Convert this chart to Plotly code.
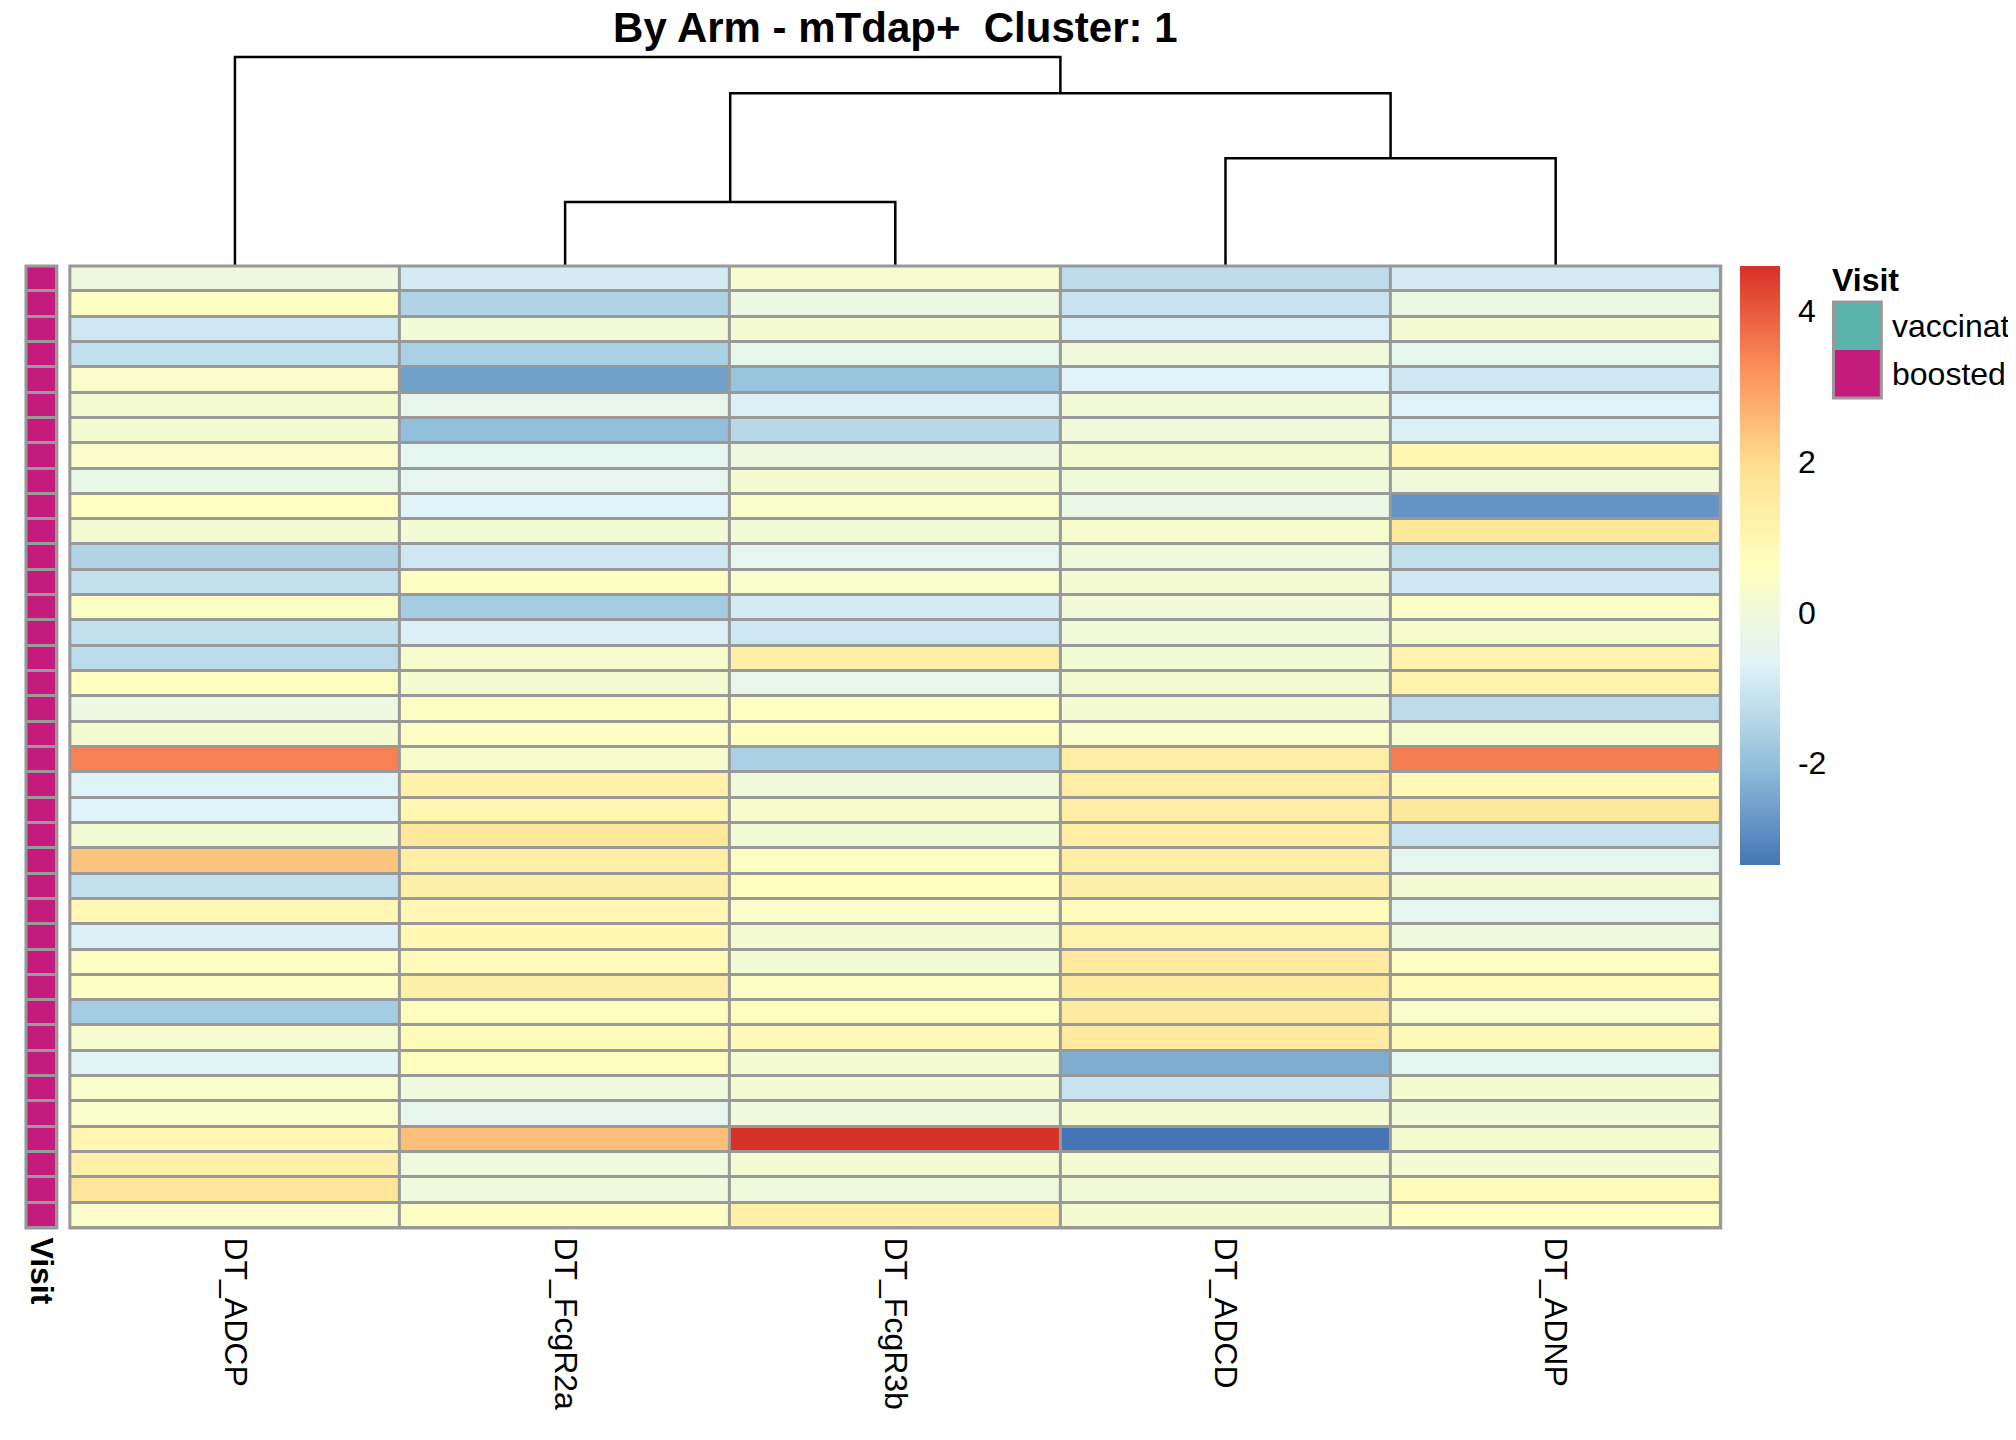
import plotly.graph_objects as go

# ---------------- data ----------------
TITLE = "By Arm - mTdap+  Cluster: 1"
columns = ["DT_ADCP", "DT_FcgR2a", "DT_FcgR3b", "DT_ADCD", "DT_ADNP"]

dt_adcp = [-0.1, 0.5, -1.0, -1.2, 0.4, 0.2, 0.2, 0.4, -0.3, 0.6,
           0.15, -1.5, -1.2, 0.5, -1.2, -1.3, 0.65, -0.2, 0.2, 3.45,
           -0.7, -0.7, 0.1, 2.4, -1.2, 0.95, -0.8, 0.5, 0.5, -1.7,
           0.25, -0.6, 0.35, 0.35, 1.0, 1.25, 1.75, 0.4]
dt_fcgr2a = [-0.9, -1.5, 0.1, -1.6, -2.6, -0.4, -2.0, -0.5, -0.45, -0.7,
             0.1, -1.0, 0.5, -1.7, -0.8, 0.3, 0.2, 0.5, 0.5, 0.3,
             1.2, 1.0, 1.6, 1.4, 1.25, 0.95, 0.95, 0.8, 1.25, 0.7,
             0.8, 0.65, -0.05, -0.45, 2.5, -0.05, -0.05, 0.5]
dt_fcgr3b = [0.25, -0.2, 0.2, -0.4, -1.9, -0.8, -1.4, -0.1, 0.15, 0.35,
             0.05, -0.5, 0.35, -0.9, -1.0, 1.3, -0.35, 0.6, 0.65, -1.6,
             0.0, 0.3, 0.1, 0.55, 0.7, 0.35, 0.2, 0.1, 0.5, 0.65,
             0.85, 0.15, 0.15, -0.05, 4.6, 0.15, -0.05, 1.25]
dt_adcd = [-1.3, -1.1, -0.8, 0.0, -0.7, 0.1, 0.0, 0.15, -0.05, -0.25,
           0.3, 0.0, 0.15, 0.05, 0.0, 0.1, 0.15, 0.15, 0.35, 1.4,
           1.35, 1.35, 1.35, 1.35, 1.25, 0.75, 1.2, 1.5, 1.5, 1.5,
           1.5, -2.35, -1.1, 0.15, -3.35, 0.15, 0.05, 0.2]
dt_adnp = [-0.9, -0.2, 0.2, -0.45, -1.0, -0.7, -0.8, 1.0, 0.0, -2.8,
           1.6, -1.2, -1.0, 0.45, 0.3, 1.1, 1.1, -1.3, 0.25, 3.5,
           0.85, 1.6, -1.1, -0.5, 0.15, -0.5, -0.05, 0.5, 0.8, 0.35,
           0.85, -0.5, 0.2, 0.1, 0.2, 0.15, 0.8, 0.6]

visit = ["boosted", "boosted", "boosted", "boosted", "boosted", "boosted", "boosted", "boosted",
         "boosted", "boosted", "boosted", "boosted", "boosted", "boosted", "boosted", "boosted",
         "boosted", "boosted", "boosted", "boosted", "boosted", "boosted", "boosted", "boosted",
         "boosted", "boosted", "boosted", "boosted", "boosted", "boosted", "boosted", "boosted",
         "boosted", "boosted", "boosted", "boosted", "boosted", "boosted"]
visit_levels = ["vaccinated", "boosted"]
visit_colors = ["#5AB4AC", "#C51B7D"]

# column dendrogram: merges of (left, right) node ids and merge heights
dendro_merges = [(1, 2), (3, 4), (5, 6), (0, 7)]
dendro_heights = [3.0, 5.05, 8.1, 9.8]

colorbar_ticks = [-2, 0, 2, 4]
rdylbu = ["#4575B4", "#91BFDB", "#E0F3F8", "#FFFFBF", "#FEE090", "#FC8D59", "#D73027"]

# ---------------- layout constants ----------------
W, H = 2016, 1440
OFF = 8  # page body margin


def px(x):
    return (x - OFF) / W


def py(y):
    return 1 - (y - OFF) / H


FONT = "Liberation Sans, Arial, Helvetica, sans-serif"
GREY = "#999999"
hm_x = [px(68), px(1723)]
hm_y = [py(1228), py(266)]
ann_x = [px(24), px(55)]
den_y = [py(266), py(40)]

series = [dt_adcp, dt_fcgr2a, dt_fcgr3b, dt_adcd, dt_adnp]
n_rows = len(dt_adcp)
n_cols = len(columns)
z = [[s[i] for s in series] for i in range(n_rows)]
all_vals = [v for s in series for v in s]
zmin, zmax = min(all_vals), max(all_vals)
cscale = [[i / (len(rdylbu) - 1), c] for i, c in enumerate(rdylbu)]

fig = go.Figure()

# main heatmap
fig.add_trace(go.Heatmap(
    z=z, x=list(range(n_cols)), y=list(range(n_rows)),
    colorscale=cscale, zmin=zmin, zmax=zmax, xgap=3, ygap=3,
    xaxis="x", yaxis="y",
    colorbar=dict(
        x=px(1742), xanchor="left", y=py(266), yanchor="top",
        len=599 / H, lenmode="fraction", thickness=40, thicknessmode="pixels",
        xpad=0, ypad=0, outlinewidth=0,
        tickvals=colorbar_ticks, ticktext=[str(t) for t in colorbar_ticks],
        ticks="outside", ticklen=12, tickcolor="rgba(0,0,0,0)",
        tickfont=dict(size=32, color="black", family=FONT),
    ),
))

# annotation column (Visit)
fig.add_trace(go.Heatmap(
    z=[[visit_levels.index(v)] for v in visit], x=[0], y=list(range(n_rows)),
    colorscale=[[0, visit_colors[0]], [0.5, visit_colors[0]],
                [0.5, visit_colors[1]], [1, visit_colors[1]]],
    zmin=0, zmax=1, showscale=False, xgap=3, ygap=3,
    xaxis="x3", yaxis="y3", hoverinfo="skip",
))

# dendrogram
node_x = {i: float(i) for i in range(n_cols)}
node_h = {i: 0.0 for i in range(n_cols)}
dx, dy = [], []
for k, ((a, b), h) in enumerate(zip(dendro_merges, dendro_heights)):
    nid = n_cols + k
    dx += [node_x[a], node_x[a], node_x[b], node_x[b], None]
    dy += [node_h[a], h, h, node_h[b], None]
    node_x[nid] = (node_x[a] + node_x[b]) / 2
    node_h[nid] = h
fig.add_trace(go.Scatter(x=dx, y=dy, mode="lines", line=dict(color="black", width=2.5),
                         xaxis="x2", yaxis="y2", hoverinfo="skip", showlegend=False))

max_h = max(dendro_heights)
noaxis = dict(showgrid=False, zeroline=False, showline=False, showticklabels=False, ticks="")

shapes = [
    # grey backing behind cells -> cell borders via gaps
    dict(type="rect", xref="x domain", yref="y domain", x0=0, x1=1, y0=0, y1=1,
         fillcolor=GREY, line=dict(width=0), layer="below"),
    dict(type="rect", xref="x3 domain", yref="y3 domain", x0=0, x1=1, y0=0, y1=1,
         fillcolor=GREY, line=dict(width=0), layer="below"),
    # outer borders of heatmap and annotation column
    dict(type="rect", xref="paper", yref="paper", x0=hm_x[0], x1=hm_x[1], y0=hm_y[0], y1=hm_y[1],
         line=dict(color=GREY, width=3)),
    dict(type="rect", xref="paper", yref="paper", x0=ann_x[0], x1=ann_x[1], y0=hm_y[0], y1=hm_y[1],
         line=dict(color=GREY, width=3)),
]

# Visit legend
box_x0, box_x1 = px(1836), px(1884)
box_tops = [302, 350]
box_h = 48
for lvl, col, top in zip(visit_levels, visit_colors, box_tops):
    shapes.append(dict(type="rect", xref="paper", yref="paper", x0=box_x0, x1=box_x1,
                       y0=py(top + box_h), y1=py(top),
                       fillcolor=col, line=dict(width=0)))
shapes.append(dict(type="rect", xref="paper", yref="paper", x0=box_x0, x1=box_x1,
                   y0=py(box_tops[-1] + box_h), y1=py(box_tops[0]),
                   line=dict(color=GREY, width=3)))

annotations = [dict(text="<b>Visit</b>", xref="paper", yref="paper", x=px(1833), y=py(280),
                    xanchor="left", yanchor="middle", showarrow=False,
                    font=dict(size=32, color="black", family=FONT))]
for lvl, top in zip(visit_levels, box_tops):
    annotations.append(dict(text=lvl, xref="paper", yref="paper", x=px(1893),
                            y=py(top + box_h / 2), xanchor="left", yanchor="middle",
                            showarrow=False, font=dict(size=32, color="black", family=FONT)))

fig.update_layout(
    width=W, height=H, autosize=False,
    margin=dict(l=0, r=0, t=0, b=0),
    paper_bgcolor="white", plot_bgcolor="white",
    showlegend=False,
    title=dict(text="<b>" + TITLE + "</b>", x=(hm_x[0] + hm_x[1]) / 2, xanchor="center",
               y=py(27), yanchor="middle", xref="paper", yref="paper",
               font=dict(size=42, color="black", family=FONT)),
    xaxis=dict(domain=hm_x, range=[-0.5, n_cols - 0.5], anchor="y",
               showgrid=False, zeroline=False, showline=False,
               tickvals=list(range(n_cols)), ticktext=columns, tickangle=90,
               ticks="outside", ticklen=2, tickcolor="rgba(0,0,0,0)",
               tickfont=dict(size=32, color="black", family=FONT)),
    yaxis=dict(domain=hm_y, range=[n_rows - 0.5, -0.5], anchor="x", **noaxis),
    xaxis2=dict(domain=hm_x, range=[-0.5, n_cols - 0.5], anchor="y2", **noaxis),
    yaxis2=dict(domain=den_y, range=[0, max_h * (266 - 40) / (266 - 57)], anchor="x2", **noaxis),
    xaxis3=dict(domain=ann_x, range=[-0.5, 0.5], anchor="y3",
                showgrid=False, zeroline=False, showline=False,
                tickvals=[0], ticktext=["<b>Visit</b>"], tickangle=90,
                ticks="outside", ticklen=2, tickcolor="rgba(0,0,0,0)",
                tickfont=dict(size=32, color="black", family=FONT)),
    yaxis3=dict(domain=hm_y, range=[n_rows - 0.5, -0.5], anchor="x3", **noaxis),
    shapes=shapes,
    annotations=annotations,
)

fig.write_html("out.html")
